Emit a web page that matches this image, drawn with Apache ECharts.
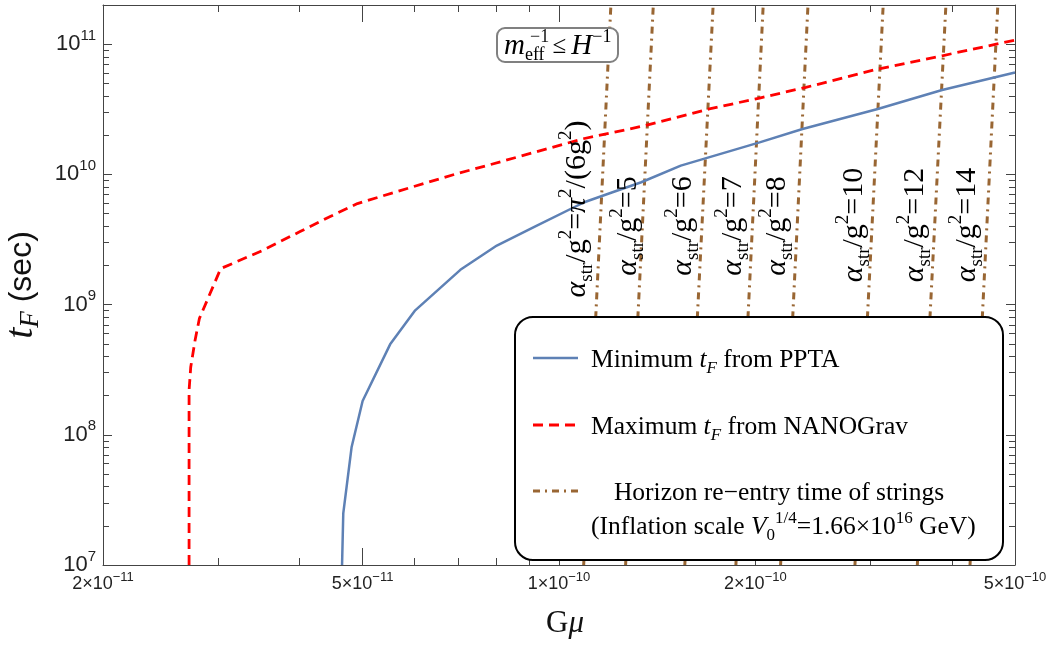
<!DOCTYPE html>
<html>
<head>
<meta charset="utf-8">
<script src="https://cdn.jsdelivr.net/npm/echarts@6/dist/echarts.min.js"></script>
<style>
html, body { margin: 0; padding: 0; background: #fff; }
#chart { width: 1057px; height: 654px; }
</style>
</head>
<body>
<div id="chart"></div>
<script>
// values (G mu, t_F in sec)
var pptaGmu = [4.65e-11, 4.67e-11, 4.81e-11, 5.0e-11, 5.51e-11, 6.02e-11, 7.06e-11, 8.03e-11, 9.15e-11, 1.093e-10, 1.208e-10, 1.337e-10, 1.537e-10, 2.03e-10, 2.362e-10, 3.08e-10, 3.866e-10, 5.0e-10];
var pptaTF = [1.0e7, 2.49e7, 8.07e7, 1.82e8, 4.95e8, 9.03e8, 1.85e9, 2.84e9, 3.93e9, 6.11e9, 7.29e9, 8.70e9, 1.168e10, 1.763e10, 2.233e10, 3.18e10, 4.45e10, 6.07e10];

var nanoGmu = [2.71e-11, 2.71e-11, 2.726e-11, 2.768e-11, 2.81e-11, 3.03e-11, 3.51e-11, 4.01e-11, 4.46e-11, 4.91e-11, 5.71e-11, 6.98e-11, 7.85e-11, 1.086e-10, 1.354e-10, 1.70e-10, 2.03e-10, 2.39e-10, 3.08e-10, 3.866e-10, 5.0e-10];
var nanoTF = [1.0e7, 2.2e8, 3.32e8, 5.32e8, 7.8e8, 1.89e9, 2.60e9, 3.64e9, 4.75e9, 5.97e9, 7.51e9, 1.014e10, 1.189e10, 1.872e10, 2.367e10, 3.18e10, 3.86e10, 4.66e10, 6.44e10, 8.15e10, 1.075e11];

// horizon re-entry lines, G mu at the bottom (t_F=1e7) and top (t_F=2e11) of the plot
var horizonTF = [1e7, 2e11];
var horizonGmuLow = [1.091e-10, 1.265e-10, 1.559e-10, 1.867e-10, 2.186e-10, 2.842e-10, 3.542e-10, 4.266e-10];
var horizonGmuHigh = [1.201e-10, 1.395e-10, 1.723e-10, 2.056e-10, 2.408e-10, 3.14e-10, 3.918e-10, 4.706e-10];
var horizonAlpha = ['pi', '5', '6', '7', '8', '10', '12', '14'];

var xRange = [2e-11, 5e-10];
var yRange = [1e7, 2e11];
var xTicks = [2e-11, 5e-11, 1e-10, 2e-10, 5e-10];
var xMinorTicks = [3e-11, 4e-11, 6e-11, 7e-11, 8e-11, 9e-11, 3e-10, 4e-10];
var yTicks = [1e7, 1e8, 1e9, 1e10, 1e11];

var yMinorTicks = [];
for (var p = 7; p <= 11; p++) {
  for (var k = 2; k <= 9; k++) {
    if (k * Math.pow(10, p) <= yRange[1]) yMinorTicks.push(k * Math.pow(10, p));
  }
}

var lg = function (v) { return Math.log10(v); };
var L = function (arr) { return arr.map(lg); };
var pairs = function (xs, ys) { return xs.map(function (x, i) { return [lg(x), lg(ys[i])]; }); };

var SERIF = "'Liberation Serif', 'DejaVu Serif', serif";
var SANS = "'Liberation Sans', Arial, sans-serif";
var FRAME = '#444';

var xMin = lg(xRange[0]) - 1e-9, xMax = lg(xRange[1]) + 1e-9;
var yMin = lg(yRange[0]) - 1e-9, yMax = lg(yRange[1]) + 1e-9;

function xAxisCfg(grid, pos, ticks, len, withLabels) {
  var ax = {
    type: 'value', gridIndex: grid, position: pos, min: xMin, max: xMax,
    axisLine: {show: grid === 0, onZero: false, lineStyle: {color: FRAME, width: 1}},
    axisTick: {show: true, inside: true, length: len, customValues: L(ticks), lineStyle: {color: FRAME, width: 1}},
    axisLabel: {show: false},
    splitLine: {show: false}
  };
  if (withLabels) {
    ax.axisLabel = {
      show: true, customValues: L(xTicks), margin: 6, showMinLabel: true, showMaxLabel: true,
      fontFamily: SANS, color: '#222',
      formatter: function (v) {
        var e = Math.floor(v + 1e-6);
        var m = Math.round(Math.pow(10, v - e));
        return '{n|' + m + '×10}{sup|−' + (-e) + '}';
      },
      rich: {
        n: {fontFamily: SANS, fontSize: 18, lineHeight: 27, color: '#222'},
        sup: {fontFamily: SANS, fontSize: 13, verticalAlign: 'top', color: '#222'}
      }
    };
    ax.name = '{g|G}{m|μ}';
    ax.nameLocation = 'middle';
    ax.nameGap = 43;
    ax.nameTextStyle = {
      padding: [0, 0, 0, 12],
      rich: {
        g: {fontFamily: SERIF, fontSize: 31, color: '#111'},
        m: {fontFamily: SERIF, fontSize: 31, fontStyle: 'italic', color: '#111'}
      }
    };
  }
  return ax;
}

function yAxisCfg(grid, pos, ticks, len, withLabels) {
  var ax = {
    type: 'value', gridIndex: grid, position: pos, min: yMin, max: yMax,
    axisLine: {show: grid === 0, onZero: false, lineStyle: {color: FRAME, width: 1}},
    axisTick: {show: true, inside: true, length: len, customValues: L(ticks), lineStyle: {color: FRAME, width: 1}},
    axisLabel: {show: false},
    splitLine: {show: false}
  };
  if (withLabels) {
    ax.axisLabel = {
      show: true, customValues: L(yTicks), margin: 7, showMinLabel: true, showMaxLabel: true,
      fontFamily: SANS, color: '#222',
      formatter: function (v) { return '{n|10}{sup|' + Math.round(v) + '}'; },
      rich: {
        n: {fontFamily: SANS, fontSize: 22, lineHeight: 32, color: '#222'},
        sup: {fontFamily: SANS, fontSize: 15, verticalAlign: 'top', color: '#222'}
      }
    };
    ax.name = '{t|t}{f|F}{s| (sec)}';
    ax.nameLocation = 'middle';
    ax.nameRotate = 90;
    ax.nameGap = 52;
    ax.nameTextStyle = {
      rich: {
        t: {fontFamily: SERIF, fontSize: 40, fontStyle: 'italic', lineHeight: 44, color: '#111'},
        f: {fontFamily: SERIF, fontSize: 27, fontStyle: 'italic', verticalAlign: 'bottom', color: '#111'},
        s: {fontFamily: SANS, fontSize: 32, color: '#111'}
      }
    };
  }
  return ax;
}

var horizonSeries = horizonGmuLow.map(function (g, i) {
  return {
    name: 'horizon' + i, type: 'line', xAxisIndex: 0, yAxisIndex: 0,
    data: [[lg(g), lg(horizonTF[0])], [lg(horizonGmuHigh[i]), lg(horizonTF[1])]],
    symbol: 'none', silent: true, z: 2,
    lineStyle: {color: '#996633', width: 3, type: [7, 5, 2, 5]}
  };
});

// rotated labels next to each horizon line
var alphaLabelPos = [[577, 209], [628, 226], [683, 226], [733, 226], [777, 226], [854, 225], [915, 225], [967, 225]];
var alphaRich = {
  a: {fontFamily: SERIF, fontSize: 30, fontStyle: 'italic', lineHeight: 40, color: '#111'},
  n: {fontFamily: SERIF, fontSize: 30, lineHeight: 40, color: '#111'},
  sub: {fontFamily: SERIF, fontSize: 19, verticalAlign: 'bottom', color: '#111'},
  sup: {fontFamily: SERIF, fontSize: 19, verticalAlign: 'top', color: '#111'}
};
var alphaLabels = horizonAlpha.map(function (a, i) {
  var txt = '{a|α}{sub|str}{n|/g}{sup|2}{n|=}';
  txt += a === 'pi' ? '{a|π}{sup|2}{n|/(6g}{sup|2}{n|)}' : '{n|' + a + '}';
  return {
    type: 'text', x: alphaLabelPos[i][0], y: alphaLabelPos[i][1], rotation: Math.PI / 2, z: 20,
    style: {text: txt, rich: alphaRich, align: 'center', verticalAlign: 'middle'}
  };
});

var legRich = {
  n: {fontFamily: SERIF, fontSize: 25.5, lineHeight: 34, color: '#111'},
  i: {fontFamily: SERIF, fontSize: 25.5, fontStyle: 'italic', lineHeight: 34, color: '#111'},
  sub: {fontFamily: SERIF, fontSize: 17, fontStyle: 'italic', verticalAlign: 'bottom', color: '#111'},
  sub0: {fontFamily: SERIF, fontSize: 17, verticalAlign: 'bottom', color: '#111'},
  sup: {fontFamily: SERIF, fontSize: 17, verticalAlign: 'top', color: '#111'}
};

var legendGroup = {
  type: 'group', z: 30,
  children: [
    {type: 'rect', z: 30, shape: {x: 515, y: 317, width: 488, height: 243, r: 18},
      style: {fill: '#fff', stroke: '#000', lineWidth: 2}},
    {type: 'line', z: 31, shape: {x1: 533, y1: 358, x2: 578, y2: 358},
      style: {stroke: '#5E81B5', lineWidth: 2.5}},
    {type: 'line', z: 31, shape: {x1: 533, y1: 425, x2: 578, y2: 425},
      style: {stroke: '#FF0000', lineWidth: 2.8, lineDash: [10, 6]}},
    {type: 'line', z: 31, shape: {x1: 533, y1: 491, x2: 580, y2: 491},
      style: {stroke: '#996633', lineWidth: 3, lineDash: [7, 5, 2, 5]}},
    {type: 'text', z: 31, x: 591, y: 360,
      style: {text: '{n|Minimum }{i|t}{sub|F}{n| from PPTA}', rich: legRich, verticalAlign: 'middle'}},
    {type: 'text', z: 31, x: 591, y: 427,
      style: {text: '{n|Maximum }{i|t}{sub|F}{n| from NANOGrav}', rich: legRich, verticalAlign: 'middle'}},
    {type: 'text', z: 31, x: 779, y: 493,
      style: {text: '{n|Horizon re−entry time of strings}', rich: legRich, align: 'center', verticalAlign: 'middle'}},
    {type: 'text', z: 31, x: 591, y: 527,
      style: {text: '{n|(Inflation scale }{i|V}{sub0|0}{sup|1/4}{n|=1.66×10}{sup|16}{n| GeV)}', rich: legRich, verticalAlign: 'middle'}}
  ]
};

var meffGroup = {
  type: 'group', z: 30,
  children: [
    {type: 'rect', z: 30, shape: {x: 497, y: 28, width: 121, height: 34, r: 8},
      style: {fill: '#fff', stroke: '#808080', lineWidth: 2}},
    {type: 'text', z: 31, x: 504, y: 46,
      style: {text: '{i|m}{sub|eff}{n|≤}{i|H}{sup|−1}', verticalAlign: 'middle',
        rich: {
          i: {fontFamily: SERIF, fontSize: 29, fontStyle: 'italic', lineHeight: 36, color: '#111'},
          n: {fontFamily: SERIF, fontSize: 25, lineHeight: 36, padding: [0, 5, 0, 8], color: '#111'},
          sub: {fontFamily: SERIF, fontSize: 18, verticalAlign: 'bottom', color: '#111'},
          sup: {fontFamily: SERIF, fontSize: 18, verticalAlign: 'top', color: '#111'}
        }}},
    {type: 'text', z: 31, x: 530, y: 37,
      style: {text: '−1', fontFamily: SERIF, fontSize: 18, fill: '#111', verticalAlign: 'middle'}}
  ]
};

var chart = echarts.init(document.getElementById('chart'));
chart.setOption({
  animation: false,
  backgroundColor: '#fff',
  grid: [
    {left: 103, right: 42, top: 5, bottom: 89, containLabel: false, outerBoundsMode: 'none'},
    {left: 103, right: 42, top: 5, bottom: 89, containLabel: false, outerBoundsMode: 'none'}
  ],
  xAxis: [
    xAxisCfg(0, 'bottom', xTicks, 17, true),
    xAxisCfg(0, 'top', xTicks, 17, false),
    xAxisCfg(1, 'bottom', xMinorTicks, 7, false),
    xAxisCfg(1, 'top', xMinorTicks, 7, false)
  ],
  yAxis: [
    yAxisCfg(0, 'left', yTicks, 9, true),
    yAxisCfg(0, 'right', yTicks, 9, false),
    yAxisCfg(1, 'left', yMinorTicks, 6, false),
    yAxisCfg(1, 'right', yMinorTicks, 6, false)
  ],
  series: horizonSeries.concat([
    {
      name: 'Minimum t_F from PPTA', type: 'line', xAxisIndex: 0, yAxisIndex: 0,
      data: pairs(pptaGmu, pptaTF), symbol: 'none', z: 3,
      lineStyle: {color: '#5E81B5', width: 2.5}
    },
    {
      name: 'Maximum t_F from NANOGrav', type: 'line', xAxisIndex: 0, yAxisIndex: 0,
      data: pairs(nanoGmu, nanoTF), symbol: 'none', z: 4,
      lineStyle: {color: '#FF0000', width: 2.8, type: [10, 6]}
    }
  ]),
  graphic: alphaLabels.concat([legendGroup, meffGroup])
});
</script>
</body>
</html>
